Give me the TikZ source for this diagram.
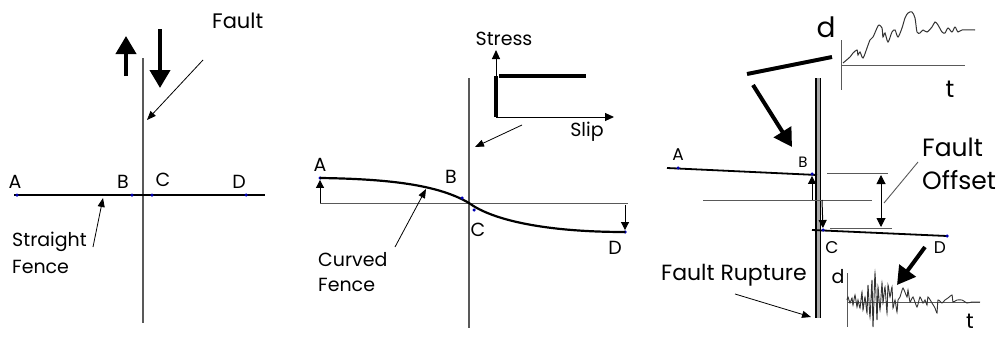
\documentclass[tikz,border=0pt]{standalone}
\usepackage{fontspec}
\setmainfont{Poppins}
\usetikzlibrary{arrows.meta, positioning, calc}
\colorlet{dotblue}{blue!70!black}
\colorlet{faultgray}{black!65}
\tikzset{
  lbl/.style={font=\fontsize{19}{21}\selectfont, inner sep=0pt},
  smlbl/.style={font=\fontsize{17}{19}\selectfont, inner sep=0pt},
  biglbl/.style={font=\fontsize{25}{27}\selectfont, inner sep=0pt},
  bigarrow/.style={line width=4pt, -{Triangle[length=18pt, width=20pt]}},
  thinarrow/.style={line width=0.8pt, -{Triangle[length=9pt, width=7pt]}},
  dimarrow/.style={line width=1pt, -{Triangle[length=8pt, width=8pt]}},
  faultline/.style={line width=1.3pt, faultgray},
  fence/.style={line width=2.2pt},
  thin line/.style={line width=0.9pt, faultgray},
  pt/.style={circle, fill=dotblue, inner sep=0pt, minimum size=3.5pt},
}
\begin{document}
\begin{tikzpicture}[x=1pt, y=-1pt]
    \useasboundingbox (0,0) rectangle (997,340);
    % panel 1: straight fence
    \coordinate (flt1top) at (143,58);
    \coordinate (flt1bot) at (143,323);
    \draw[faultline] (flt1top) -- (flt1bot);
    \coordinate (up1s) at (126,76);
    \coordinate (up1e) at (126,36);
    \draw[bigarrow] (up1s) -- (up1e);
    \coordinate (dn1s) at (160,29);
    \coordinate (dn1e) at (160,88);
    \draw[bigarrow] (dn1s) -- (dn1e);
    \node[lbl, font=\fontsize{21}{23}\selectfont, anchor=west] (fault1) at (212,21) {Fault};
    \coordinate (fault1s) at (203,60);
    \coordinate (fault1e) at (147,120);
    \draw[thinarrow] (fault1s) -- (fault1e);
    \coordinate (fen1s) at (14,195);
    \coordinate (fen1e) at (265,195);
    \draw[fence] (fen1s) -- (fen1e);
    \node[pt] (pa1) at (17,195) {};
    \node[pt] (pb1) at (132,195) {};
    \node[pt] (pc1) at (152,195) {};
    \node[pt] (pd1) at (246,195) {};
    \node[lbl] (la1) at (15,182) {A};
    \node[lbl] (lb1) at (123,182) {B};
    \node[lbl] (lc1) at (163,180) {C};
    \node[lbl] (ld1) at (239,182) {D};
    \node[lbl, anchor=west] (strt1) at (12,242) {Straight};
    \node[lbl, anchor=west] (fnc1) at (12,267) {Fence};
    \coordinate (strt1s) at (93,247);
    \coordinate (strt1e) at (103,198);
    \draw[thinarrow] (strt1s) -- (strt1e);
    % panel 2: curved fence
    \coordinate (flt2top) at (469,78);
    \coordinate (flt2bot) at (469,328);
    \draw[faultline] (flt2top) -- (flt2bot);
    \coordinate (ref2s) at (320,203);
    \coordinate (ref2e) at (628,203);
    \draw[thin line] (ref2s) -- (ref2e);
    \coordinate (cut2) at (469,203);
    \node[pt] (pa2) at (320,178) {};
    \node[pt] (pd2) at (625,232) {};
    \draw[fence] (pa2.center) .. controls (395,179) and (440,186) .. (cut2)
                 .. controls (492,220) and (545,232) .. (pd2.center);
    \node[pt] (pb2) at (462,198) {};
    \node[pt] (pc2) at (474,210) {};
    \draw[dimarrow] (ref2s) -- (pa2);
    \coordinate (dim2s) at (625,205);
    \draw[dimarrow] (dim2s) -- (pd2);
    \node[lbl] (la2) at (320,165) {A};
    \node[lbl] (lb2) at (451,177) {B};
    \node[lbl] (lc2) at (478,230) {C};
    \node[lbl] (ld2) at (615,248) {D};
    \node[lbl, anchor=west] (crv2) at (318,260) {Curved};
    \node[lbl, anchor=west] (fnc2) at (318,285) {Fence};
    \coordinate (crv2s) at (395,247);
    \coordinate (crv2e) at (426,189);
    \draw[thinarrow] (crv2s) -- (crv2e);
    % stress / slip inset
    \coordinate (org) at (496,117);
    \coordinate (stry) at (496,50);
    \coordinate (slpx) at (614,117);
    \draw[line width=1pt, -{Triangle[length=9pt, width=8pt]}] (org) -- (stry);
    \draw[line width=1pt, -{Triangle[length=9pt, width=8pt]}] (org) -- (slpx);
    \coordinate (bar1) at (496,76);
    \coordinate (bar2) at (499,76);
    \coordinate (bar3) at (586,76);
    \draw[line width=4pt] (org) -- (bar1);
    \draw[line width=4pt] (bar2) -- (bar3);
    \node[lbl] (strs) at (504,39) {Stress};
    \node[lbl] (slp) at (587,132) {Slip};
    \coordinate (ins2s) at (522,125);
    \coordinate (ins2e) at (475,147);
    \draw[thinarrow] (ins2s) -- (ins2e);
    % panel 3: fault offset and records
    \coordinate (flt3top) at (818,78);
    \coordinate (flt3bot) at (818,318);
    \draw[line width=1.2pt, double=black!35, double distance=3pt] (flt3top) -- (flt3bot);
    \coordinate (bl3s) at (747,74);
    \coordinate (bl3e) at (832,57);
    \draw[line width=4pt] (bl3s) -- (bl3e);
    \coordinate (ar3s) at (753,85);
    \coordinate (ar3e) at (792,147);
    \draw[bigarrow] (ar3s) -- (ar3e);
    % displacement record
    \coordinate (dax) at (841,40);
    \coordinate (dax2) at (841,90);
    \coordinate (dt1) at (841,65);
    \coordinate (dt2) at (965,65);
    \draw[thin line] (dax) -- (dax2);
    \draw[thin line] (dt1) -- (dt2);
    \draw[line width=1pt, black!80] plot[smooth, tension=0.5] coordinates {
      (843,63) (850,57) (853,53) (857,50) (858,55) (860,52) (863,58) (867,48)
      (870,40) (873,37) (877,28) (879,25) (882,28) (883,37) (885,33) (888,42)
      (892,32) (895,30) (898,37) (902,28) (905,18) (908,13) (912,12) (915,18)
      (917,32) (920,33) (923,30) (927,32) (932,27) (935,22) (938,25) (942,32)
      (945,33) (948,28) (952,32) (955,27) (958,32) (962,30) (975,30)};
    \node[lbl, font=\fontsize{28}{30}\selectfont] (dtop) at (826,27) {d};
    \node[lbl, font=\fontsize{24}{26}\selectfont] (ttop) at (950,89) {t};
    % offset fence
    \coordinate (ref3s) at (703,200);
    \coordinate (ref3e) at (872,200);
    \draw[thin line] (ref3s) -- (ref3e);
    \coordinate (fen3s) at (667,168);
    \coordinate (fen3m) at (817,175);
    \draw[fence, line width=1.8pt] (fen3s) -- (fen3m);
    \coordinate (fen3c) at (812,230);
    \coordinate (fen3e) at (947,236);
    \draw[fence, line width=1.8pt] (fen3c) -- (fen3e);
    \node[pt] (pa3) at (678,168) {};
    \node[pt] (pb3) at (812,174) {};
    \node[pt] (pc3) at (823,230) {};
    \node[pt] (pd3) at (947,236) {};
    \coordinate (dimb3) at (812,200);
    \coordinate (dimc3) at (822,200);
    \draw[dimarrow] (dimb3) -- (pb3);
    \draw[dimarrow] (dimc3) -- (pc3);
    \coordinate (ext1s) at (827,173);
    \coordinate (ext1e) at (888,173);
    \coordinate (ext2s) at (830,228);
    \coordinate (ext2e) at (892,228);
    \draw[thin line] (ext1s) -- (ext1e);
    \draw[thin line] (ext2s) -- (ext2e);
    \coordinate (off1) at (881,175);
    \coordinate (off2) at (881,227);
    \draw[line width=1pt, {Triangle[length=9pt, width=9pt]}-{Triangle[length=9pt, width=9pt]}] (off1) -- (off2);
    \node[smlbl] (la3) at (678,155) {A};
    \node[smlbl, font=\fontsize{15}{17}\selectfont] (lb3) at (803,162) {B};
    \node[smlbl] (lc3) at (832,248) {C};
    \node[smlbl] (ld3) at (940,248) {D};
    \node[biglbl, anchor=west] (flt3a) at (922,147) {Fault};
    \node[biglbl, anchor=west] (flt3b) at (922,180) {Offset};
    \coordinate (lead3) at (918,162);
    \coordinate (lead3e) at (884,203);
    \draw[thin line] (lead3) -- (lead3e);
    \node[biglbl, font=\fontsize{22}{24}\selectfont] (rupt) at (734,275) {Fault Rupture};
    \coordinate (rupts) at (735,294);
    \coordinate (rupte) at (811,317);
    \draw[thinarrow] (rupts) -- (rupte);
    % seismogram
    \coordinate (sax) at (847,273);
    \coordinate (sax2) at (847,327);
    \coordinate (st1) at (847,302);
    \coordinate (st2) at (980,302);
    \draw[thin line] (sax) -- (sax2);
    \draw[thin line] (st1) -- (st2);
    \draw[line width=0.9pt, black!80] plot[smooth, tension=0.3] coordinates {
      (847,300) (848,297) (850,303) (852,298) (853,305) (855,295) (857,307)
      (858,300) (860,308) (862,292) (863,310) (865,297) (867,313) (868,285)
      (870,317) (872,280) (873,327) (875,273) (877,320) (878,287) (880,310)
      (882,283) (883,303) (885,287) (887,313) (888,285) (890,297) (892,287)
      (893,308) (895,300) (897,312) (898,300) (900,297) (903,288) (907,297)
      (908,290) (910,302) (913,297) (917,307) (920,297) (923,303) (925,300)
      (927,305) (928,297) (932,303) (935,308) (937,313) (938,300) (942,303)
      (945,300) (948,298) (952,295) (953,302) (957,300) (962,300) (967,303)
      (972,302) (980,302)};
    \node[lbl, font=\fontsize{19}{21}\selectfont] (dbot) at (838,277) {d};
    \node[lbl, font=\fontsize{21}{23}\selectfont] (tbot) at (970,321) {t};
    \coordinate (ar4s) at (925,247);
    \coordinate (ar4e) at (897,285);
    \draw[bigarrow] (ar4s) -- (ar4e);
\end{tikzpicture}
\end{document}
